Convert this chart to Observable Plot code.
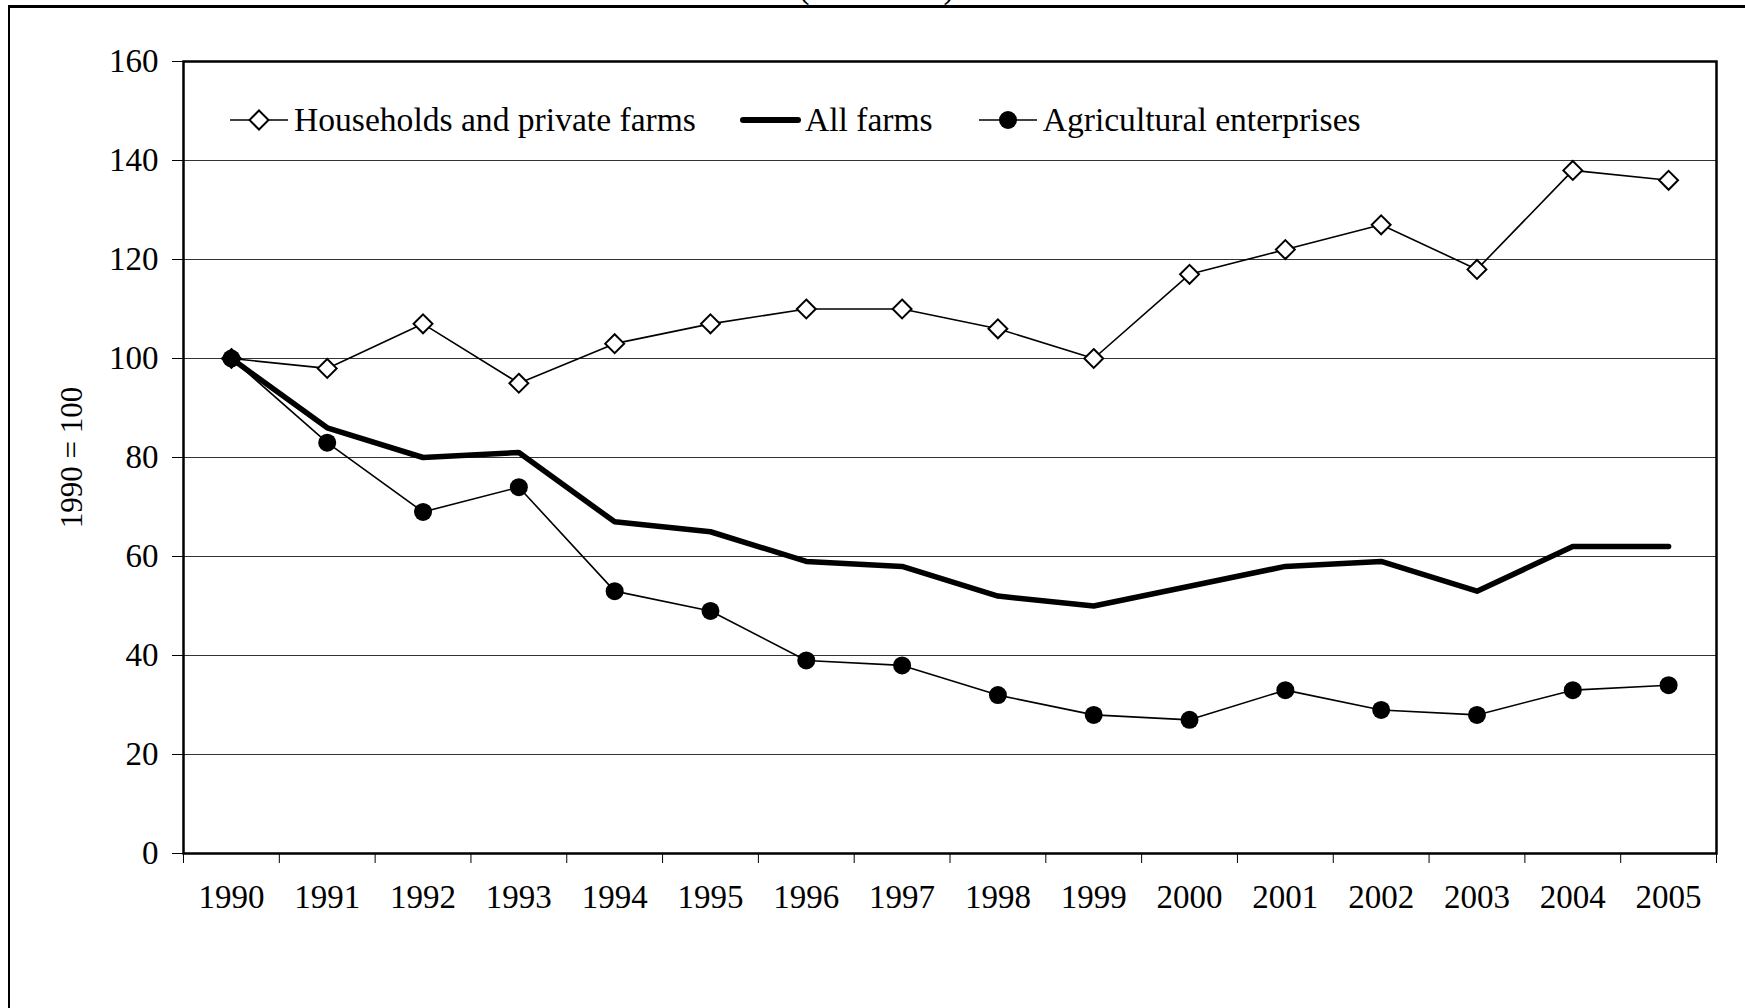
<!DOCTYPE html>
<html>
<head>
<meta charset="utf-8">
<script src="https://cdn.jsdelivr.net/npm/d3@7"></script>
<script src="https://cdn.jsdelivr.net/npm/@observablehq/plot@0.6"></script>
<style>
  body { margin: 0; background: #fff; font-family: "Liberation Serif", "Times New Roman", serif; }
  #page { position: relative; width: 1745px; height: 1008px; overflow: hidden; background: #fff; }
  #border { position: absolute; left: 8px; top: 5px; width: 1800px; height: 1100px;
            border-left: 2.5px solid #000; border-top: 3px solid #000; }
  #title { position: absolute; left: 0; width: 1753px; top: -29px; line-height: 33px;
           text-align: center; font-size: 33px; color: #000; }
  #chart { position: absolute; left: 0; top: 0; }
  #legend { position: absolute; top: 100px; left: 230px; height: 40px; display: flex;
            align-items: center; font-size: 33.6px; line-height: 40px; color: #000; white-space: nowrap; }
  .item { display: flex; align-items: center; }
  .item svg { display: block; }
</style>
</head>
<body>
<div id="page">
  <div id="title">(1990=100)</div>
  <div id="border"></div>
  <div id="chart"></div>
  <div id="legend"></div>
</div>
<script>
// Gross output index by farm type, 1990 = 100
const years = [1990, 1991, 1992, 1993, 1994, 1995, 1996, 1997, 1998, 1999, 2000, 2001, 2002, 2003, 2004, 2005];
const households = [100, 98, 107, 95, 103, 107, 110, 110, 106, 100, 117, 122, 127, 118, 138, 136];
const allFarms = [100, 86, 80, 81, 67, 65, 59, 58, 52, 50, 54, 58, 59, 53, 62, 62];
const enterprises = [100, 83, 69, 74, 53, 49, 39, 38, 32, 28, 27, 33, 29, 28, 33, 34];
const yTicks = [0, 20, 40, 60, 80, 100, 120, 140, 160];
const seriesNames = ["Households and private farms", "All farms", "Agricultural enterprises"];
const yLabel = "1990 = 100";

const rows = vals => years.map((year, i) => ({year, value: vals[i]}));
const hh = rows(households);
const af = rows(allFarms);
const ae = rows(enterprises);

// category boundaries, where the x tick marks sit
const bandEdges = years.map(y => y - 0.5).concat([years[years.length - 1] + 0.5]);

const chart = Plot.plot({
  width: 1745,
  height: 1008,
  marginLeft: 183,
  marginRight: 29,
  marginTop: 61,
  marginBottom: 155,
  style: {fontFamily: "Liberation Serif, Times New Roman, serif", fontSize: "33px", color: "#000",
          background: "transparent", overflow: "visible"},
  x: {type: "linear", domain: [bandEdges[0], bandEdges[bandEdges.length - 1]]},
  y: {domain: [yTicks[0], yTicks[yTicks.length - 1]]},
  marks: [
    Plot.ruleY(yTicks.slice(1, -1), {stroke: "#333", strokeWidth: 1}),
    Plot.axisY({ticks: yTicks, tickSize: 11, tickPadding: 14, tickFormat: d => String(d), label: null}),
    Plot.axisX({ticks: bandEdges, tickSize: 10, tickFormat: () => "", label: null}),
    Plot.axisX({ticks: years, tickSize: 0, tickPadding: 31, tickFormat: d => String(d), label: null}),
    Plot.frame({stroke: "#000", strokeWidth: 2.5}),
    // rotated axis title, centred on the frame height, left of the tick labels
    Plot.text([yLabel], {text: d => d, frameAnchor: "left", textAnchor: "middle", dx: -111, rotate: -90,
                         fontSize: 31, fill: "#000"}),
    Plot.line(hh, {x: "year", y: "value", stroke: "#000", strokeWidth: 1.6}),
    Plot.dot(hh, {x: "year", y: "value", symbol: "diamond2", r: 8.5, fill: "#fff", stroke: "#000", strokeWidth: 2}),
    Plot.line(af, {x: "year", y: "value", stroke: "#000", strokeWidth: 5.5}),
    Plot.line(ae, {x: "year", y: "value", stroke: "#000", strokeWidth: 1.6}),
    Plot.dot(ae, {x: "year", y: "value", r: 9, fill: "#000", stroke: "none"})
  ]
});
document.getElementById("chart").appendChild(chart);

// legend: line swatches with the series markers
const swatches = [
  `<svg width="58" height="24"><line x1="0" y1="12" x2="58" y2="12" stroke="#000" stroke-width="1.6"/>
     <path d="M29,2.5 L38.5,12 L29,21.5 L19.5,12 Z" fill="#fff" stroke="#000" stroke-width="2"/></svg>`,
  `<svg width="61" height="24"><line x1="3" y1="12" x2="58" y2="12" stroke="#000" stroke-width="6" stroke-linecap="round"/></svg>`,
  `<svg width="58" height="24"><line x1="0" y1="12" x2="58" y2="12" stroke="#000" stroke-width="1.6"/>
     <circle cx="29" cy="12" r="9" fill="#000"/></svg>`
];
const gaps = [6, 4, 6];
const after = [44, 46, 0];
const legend = document.getElementById("legend");
seriesNames.forEach((name, i) => {
  const item = document.createElement("div");
  item.className = "item";
  item.style.marginRight = after[i] + "px";
  item.innerHTML = swatches[i] + `<span style="margin-left:${gaps[i]}px">${name}</span>`;
  legend.appendChild(item);
});
</script>
</body>
</html>
